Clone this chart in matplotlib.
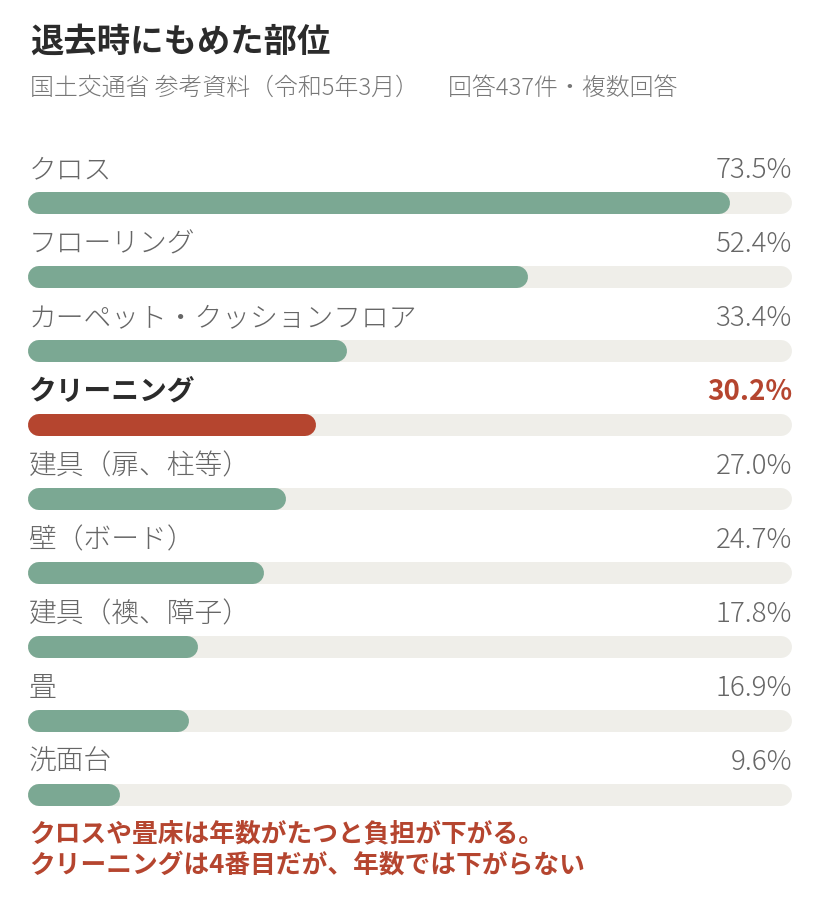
import matplotlib
matplotlib.use("Agg")
import matplotlib.pyplot as plt

plt.rcParams["font.family"] = ["Noto Sans CJK JP", "DejaVu Sans"]

TITLE = "退去時にもめた部位"
SUBTITLE = "国土交通省 参考資料（令和5年3月）　 回答437件・複数回答"
NOTE_LINES = [
    "クロスや畳床は年数がたつと負担が下がる。",
    "クリーニングは4番目だが、年数では下がらない",
]

categories = [
    "クロス",
    "フローリング",
    "カーペット・クッションフロア",
    "クリーニング",
    "建具（扉、柱等）",
    "壁（ボード）",
    "建具（襖、障子）",
    "畳",
    "洗面台",
]
values = [73.5, 52.4, 33.4, 30.2, 27.0, 24.7, 17.8, 16.9, 9.6]
highlight = "クリーニング"

GREEN = "#7ba893"
RED = "#b5452f"
TRACK = "#efeee9"
LABEL = "#666666"
DARK = "#2b2b2b"

W, H = 820, 914
X0, X1 = 28, 792
XMAX = 80.0
ROW0, STEP = 203, 74
BAR_PX = 22

fig = plt.figure(figsize=(W / 100, H / 100), dpi=100)
ax = fig.add_axes([X0 / W, 0, (X1 - X0) / W, 1])
ax.set_xlim(0, XMAX)
ax.set_ylim((H - ROW0) / STEP, -ROW0 / STEP)
ax.axis("off")

lw_pt = BAR_PX * 72 / 100
r = (BAR_PX / 2) / ((X1 - X0) / XMAX)

for i, (cat, val) in enumerate(zip(categories, values)):
    hot = cat == highlight
    ax.plot([r, XMAX - r], [i, i], color=TRACK, lw=lw_pt, solid_capstyle="round")
    ax.plot([r, val - r], [i, i], color=RED if hot else GREEN, lw=lw_pt,
            solid_capstyle="round")
    ty = i - 33 / STEP
    ax.text(0.05, ty, cat, ha="left", va="center", fontsize=20,
            color=DARK if hot else LABEL, weight="bold" if hot else 300)
    ax.text(XMAX, ty, f"{val:.1f}%", ha="right", va="center", fontsize=20,
            color=RED if hot else LABEL, weight="bold" if hot else 300)

fig.text(30 / W, 1 - 42 / H, TITLE, ha="left", va="center", fontsize=24,
         weight="bold", color=DARK)
fig.text(30 / W, 1 - 88 / H, SUBTITLE, ha="left", va="center", fontsize=17.2,
         color="#777777", weight=300)
for k, line in enumerate(NOTE_LINES):
    fig.text(29 / W, 1 - (834 + 31 * k) / H, line, ha="left", va="center",
             fontsize=18.5, weight="bold", color=RED)

fig.savefig("out.png", dpi=100, facecolor="white")
